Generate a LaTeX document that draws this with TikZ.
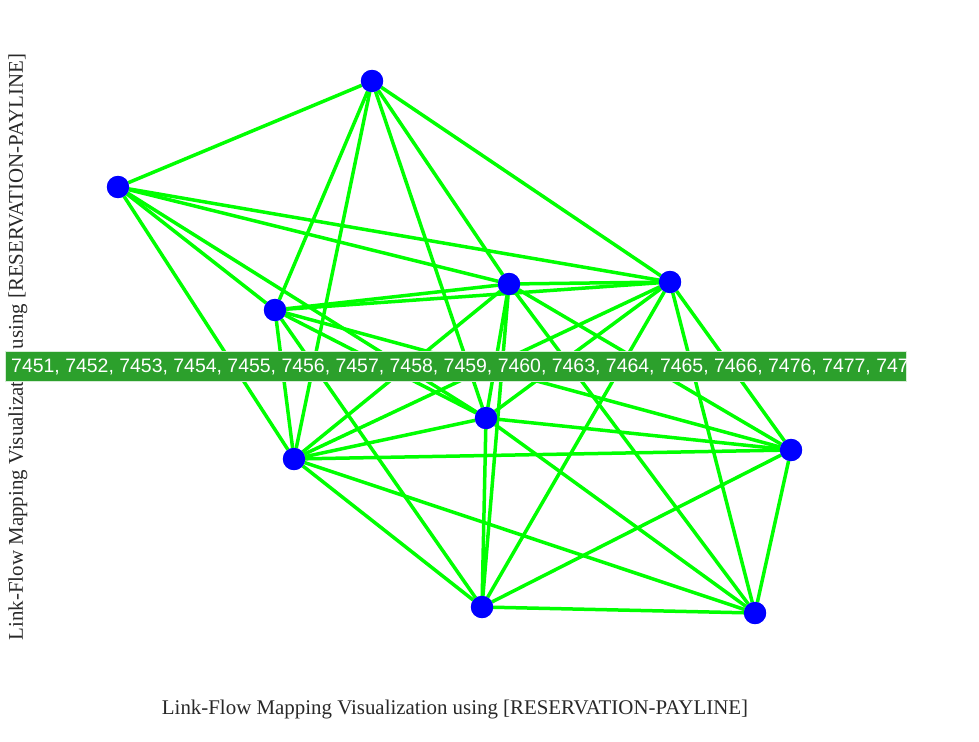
\documentclass[tikz,border=0pt]{standalone}
\usepackage{fontspec}
\setmainfont{Liberation Serif}
\newfontfamily\bannerfont{Liberation Sans}
\definecolor{edgegreen}{RGB}{0,255,0}
\definecolor{vtxblue}{RGB}{0,0,255}
\definecolor{bannergreen}{RGB}{44,160,44}
\definecolor{axisgray}{RGB}{40,40,40}
\begin{document}
\begin{tikzpicture}[x=1pt,y=-1pt,
  edge/.style={draw=edgegreen, line width=3.5pt},
  vtx/.style={circle, fill=vtxblue, minimum size=22pt, inner sep=0pt},
  axislabel/.style={font=\fontsize{20.9}{24}\selectfont, text=axisgray, inner sep=0pt},
  bannertext/.style={font=\bannerfont\fontsize{19.45}{22}\selectfont, text=white, inner sep=0pt, anchor=west}]
\useasboundingbox (0,0) rectangle (979,741);
% vertices
\node[vtx] (A) at (372,81) {};
\node[vtx] (B) at (118,187) {};
\node[vtx] (C) at (275,310) {};
\node[vtx] (D) at (509,284) {};
\node[vtx] (E) at (670,282) {};
\node[vtx] (F) at (486,418) {};
\node[vtx] (G) at (294,459) {};
\node[vtx] (H) at (791,450) {};
\node[vtx] (I) at (482,607) {};
\node[vtx] (J) at (755,613) {};
% edges
\foreach \u/\v in {A/B,A/C,A/G,A/F,A/D,A/E,
  B/C,B/D,B/E,B/F,B/G,
  C/D,C/E,C/F,C/G,C/H,C/I,
  D/E,D/F,D/G,D/H,D/I,D/J,
  E/F,E/G,E/H,E/I,E/J,
  F/G,F/H,F/I,F/J,
  G/H,G/I,G/J,
  H/I,H/J,
  I/J}
  \draw[edge] (\u) -- (\v);
% vertices on top of the edges
\foreach \p in {(372,81),(118,187),(275,310),(509,284),(670,282),(486,418),(294,459),(791,450),(482,607),(755,613)}
  \fill[vtxblue] \p circle (11.2);
% axis labels
\node[axislabel] (xlab) at (455,709) {Link-Flow Mapping Visualization using [RESERVATION-PAYLINE]};
\node[axislabel, rotate=90] (ylab) at (18,347) {Link-Flow Mapping Visualization using [RESERVATION-PAYLINE]};
% banner
\path[fill=bannergreen, draw=white!80!bannergreen, line width=0.8pt] (5,351) rectangle (906,381);
\begin{scope}
\clip (5,351) rectangle (906,381);
\node[bannertext] (btext) at (11,367) {7451, 7452, 7453, 7454, 7455, 7456, 7457, 7458, 7459, 7460, 7463, 7464, 7465, 7466, 7476, 7477, 7478};
\end{scope}
\end{tikzpicture}
\end{document}
